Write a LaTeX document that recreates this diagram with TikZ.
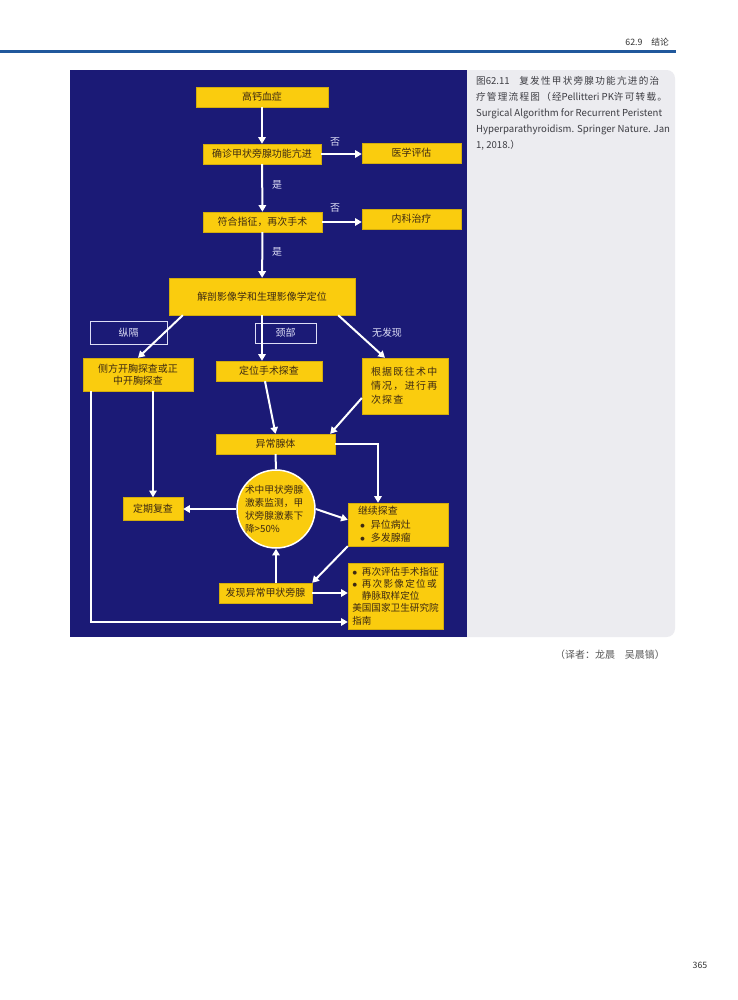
\documentclass[tikz,border=0pt]{standalone}
\usepackage{fontspec}
\setmainfont{Noto Sans CJK SC}
\newfontfamily\spaced[LetterSpace=13]{Noto Sans CJK SC}
\usetikzlibrary{arrows.meta, calc}
\definecolor{navy}{RGB}{27,26,118}
\definecolor{boxyellow}{RGB}{250,204,14}
\definecolor{boxtext}{RGB}{62,42,18}
\definecolor{pagegray}{RGB}{236,236,240}
\definecolor{ruleblue}{RGB}{32,88,156}
\definecolor{tagwhite}{RGB}{222,222,246}
\definecolor{capgray}{RGB}{60,60,66}
\newcommand{\dotitem}{\hspace{0.6mm}$\bullet$\hspace{1.8mm}}

\begin{document}
\begin{tikzpicture}[x=0.3mm, y=-0.3mm,
  box/.style={draw=boxyellow!85!black, line width=0.3pt, fill=boxyellow, text=boxtext,
    inner sep=0.5mm, font=\fontsize{8.5}{11}\selectfont},
  tag/.style={draw=tagwhite, line width=0.3mm, text=tagwhite, font=\fontsize{8.5}{11}\selectfont},
  lbl/.style={text=tagwhite, font=\fontsize{8.5}{11}\selectfont},
  flow/.style={draw=white, line width=0.6mm, -{Triangle[length=2mm, width=2.2mm]}},
  link/.style={draw=white, line width=0.6mm}]
  \useasboundingbox (0,0) rectangle (737,1000);
  \fill[white] (0,0) rectangle (737,1000);
  % page head
  \draw[ruleblue, line width=0.9mm] (0,51) -- (676,51);
  \node[anchor=east, text=black!80, font=\fontsize{7.5}{9}\selectfont] (runhead) at (673,42) {62.9\quad 结论};
  % panels
  \fill[pagegray, rounded corners=2.5mm] (420,70) rectangle (675,637);
  \fill[navy] (70,70) rectangle (467,637);
  \node[anchor=north west, align=left, text=capgray, font=\fontsize{8.2}{13.7}\selectfont] (caption) at (472,72)
    {图62.11\quad{\spaced 复发性甲状旁腺功能亢进的治}\\
     {\spaced 疗管理流程图（经}Pellitteri PK{\spaced 许可转载。}\\
     Surgical Algorithm for Recurrent Peristent\\
     Hyperparathyroidism. Springer Nature. Jan\\
     1, 2018.）};
  % top of the chart
  \node[box, minimum width=39.6mm, minimum height=6mm] (hypercal) at (262,97) {高钙血症};
  \node[box, minimum width=35.4mm, minimum height=6mm] (confirmhpt) at (262,154) {确诊甲状旁腺功能亢进};
  \node[box, minimum width=29.7mm, minimum height=6mm] (medeval) at (411.5,153) {医学评估};
  \node[box, minimum width=35.7mm, minimum height=6mm] (indication) at (262.5,222) {符合指征，再次手术};
  \node[box, minimum width=29.7mm, minimum height=6mm] (medtherapy) at (411.5,219) {内科治疗};
  \node[lbl] (no1) at (335,142) {否};
  \node[lbl] (no2) at (335,208) {否};
  \node[lbl] (yes1) at (277,185) {是};
  \node[lbl] (yes2) at (277,252) {是};
  \node[box, minimum width=55.8mm, minimum height=11.1mm] (localize) at (262,296.5) {解剖影像学和生理影像学定位};
  % where it was found
  \node[tag, minimum width=23.1mm, minimum height=6.9mm] (mediastinum) at (128.5,332.5) {纵隔};
  \node[tag, minimum width=18.3mm, minimum height=6mm] (neck) at (285.5,333) {颈部};
  \node[lbl] (nofind) at (387,333) {无发现};
  \node[box, align=center, minimum width=33mm, minimum height=9.9mm,
    font=\fontsize{8.5}{10.5}\selectfont] (thoracic) at (138,374.5) {侧方开胸探查或正\\中开胸探查};
  \node[box, minimum width=31.8mm, minimum height=6mm] (targeted) at (269,371) {定位手术探查};
  \node[box, align=left, text width=20.4mm, minimum width=25.8mm, minimum height=16.8mm,
    font=\spaced\fontsize{8.5}{12}\selectfont] (reexplore) at (405,386) {根据既往术中\\情况，进行再\\次探查};
  \node[box, minimum width=35.7mm, minimum height=6mm] (abnormal) at (275.5,444) {异常腺体};
  % lower part
  \node[box, circle, draw=white, line width=0.45mm, align=left, text width=18.6mm, inner sep=-0.6mm,
    minimum size=23.4mm, font=\fontsize{8.3}{11.1}\selectfont] (iopth) at (276,509)
    {术中甲状旁腺\\激素监测，甲\\状旁腺激素下\\降>50\%};
  \node[box, minimum width=18mm, minimum height=6.9mm] (followup) at (153,509) {定期复查};
  \node[box, align=left, text width=24mm, minimum width=30mm, minimum height=12.9mm,
    font=\fontsize{8.5}{11.7}\selectfont] (continue) at (398,524.5)
    {继续探查\\\dotitem 异位病灶\\\dotitem 多发腺瘤};
  \node[box, minimum width=27.9mm, minimum height=6mm] (foundgland) at (265.5,593) {发现异常甲状旁腺};
  \node[box, align=left, minimum width=28.5mm, minimum height=19.8mm, inner sep=0.3mm,
    font=\fontsize{8.2}{10.5}\selectfont] (reevaluate) at (395.5,596)
    {$\bullet$\hspace{1.4mm}再次评估手术指征\\$\bullet$\hspace{1.4mm}{\spaced 再次影像定位或}\\
     \phantom{$\bullet$}\hspace{1.4mm}静脉取样定位\\美国国家卫生研究院\\指南};
  % arrows
  \draw[flow] (hypercal) -- (confirmhpt);
  \draw[flow] (confirmhpt.east) -- (confirmhpt.east -| medeval.west);
  \draw[flow] (confirmhpt) -- (indication);
  \draw[flow] (indication.east) -- (indication.east -| medtherapy.west);
  \draw[flow] (indication) -- (localize);
  \draw[flow] ([xshift=4.2mm]localize.south west) -- (thoracic.north);
  \draw[flow] (localize.south) -- (localize.south |- targeted.north);
  \draw[flow] ([xshift=-5.1mm]localize.south east) -- ([xshift=-6mm]reexplore.north);
  \draw[flow] ([xshift=-1.2mm]targeted.south) -- (abnormal.north);
  \draw[flow] ([yshift=-3.6mm]reexplore.west) -- ([xshift=-1.5mm]abnormal.north east);
  \draw[flow] ([xshift=2.4mm]thoracic.south west) |- ([yshift=-7.8mm]reevaluate.west);
  \draw[flow] (followup.north |- thoracic.south) -- (followup.north);
  \draw[flow] (abnormal.east) -| ([xshift=-6mm]continue.north);
  \draw[link] (abnormal.south) -- (iopth.north);
  \draw[flow] (iopth.west) -- (followup.east);
  \draw[flow] (iopth.east) -- ([yshift=1.4mm]continue.west);
  \draw[flow] (continue.south west) -- (foundgland.north east);
  \draw[flow] (iopth.south |- foundgland.north) -- (iopth.south);
  \draw[flow] (foundgland.east) -- (foundgland.east -| reevaluate.west);
  % foot of page
  \node[text=black!65, font=\fontsize{8.5}{10}\selectfont] (translator) at (610,655) {（译者：龙晨　吴晨镐）};
  \node[text=black!80, font=\fontsize{7.5}{9}\selectfont] (pagenum) at (700,965) {365};
\end{tikzpicture}
\end{document}
